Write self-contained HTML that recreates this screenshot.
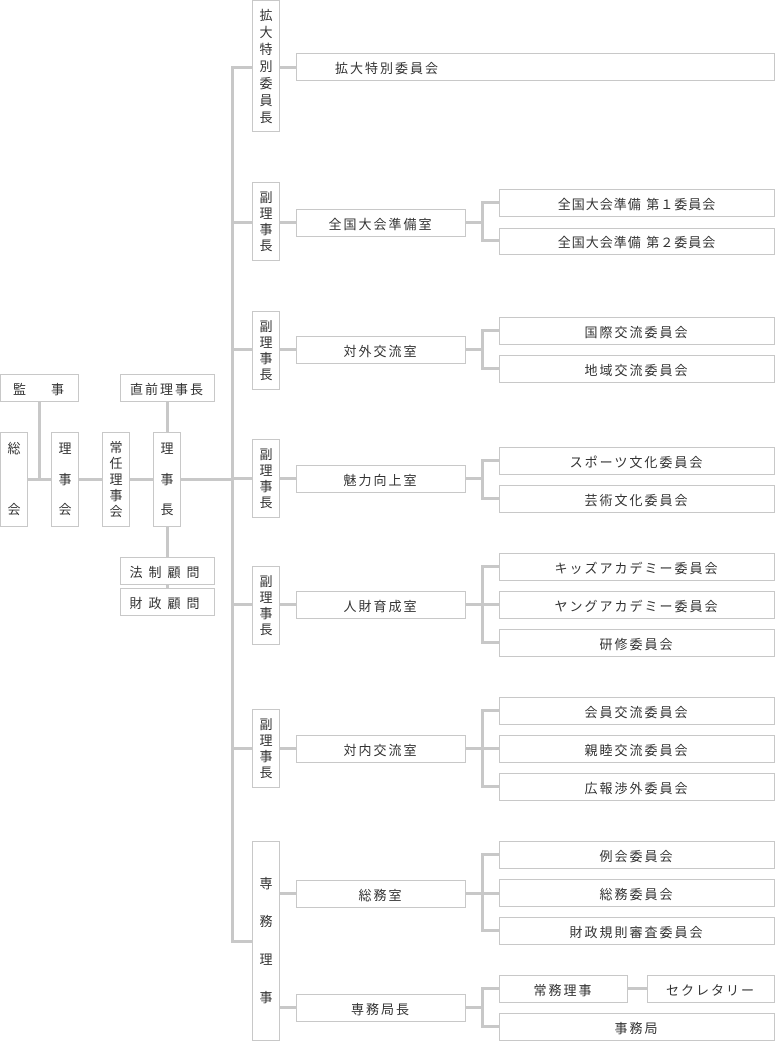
<!DOCTYPE html>
<html><head><meta charset="utf-8"><style>
body{margin:0;width:775px;height:1041px;position:relative;background:#fff;overflow:hidden;font-family:"Liberation Sans","Noto Sans CJK JP",sans-serif;color:#333;font-size:13px}
.b{position:absolute;box-sizing:border-box;border:1px solid #c8c8c8;background:#fff;display:flex;align-items:center;justify-content:center;letter-spacing:2px}
.v{flex-direction:column;line-height:16px;letter-spacing:0}
.l{position:absolute;background:#c8c8c8}
</style></head><body>
<!-- lines -->
<div class="l" style="left:38px;top:401px;width:3px;height:79px"></div>
<div class="l" style="left:27px;top:478px;width:206px;height:3px"></div>
<div class="l" style="left:166px;top:401px;width:3px;height:187px"></div>
<div class="l" style="left:231px;top:66px;width:3px;height:877px"></div>
<div class="l" style="left:231px;top:66px;width:21px;height:3px"></div>
<div class="l" style="left:279px;top:66px;width:17px;height:3px"></div>
<!-- sections -->
<div class="l" style="left:231px;top:221px;width:65px;height:3px"></div>
<div class="l" style="left:231px;top:348px;width:65px;height:3px"></div>
<div class="l" style="left:231px;top:477px;width:65px;height:3px"></div>
<div class="l" style="left:231px;top:603px;width:65px;height:3px"></div>
<div class="l" style="left:231px;top:747px;width:65px;height:3px"></div>
<div class="l" style="left:231px;top:940px;width:21px;height:3px"></div>
<div class="l" style="left:279px;top:892px;width:17px;height:3px"></div>
<div class="l" style="left:279px;top:1006px;width:17px;height:3px"></div>
<!-- brackets -->
<div class="l" style="left:465px;top:221px;width:17px;height:3px"></div>
<div class="l" style="left:481px;top:201px;width:3px;height:40px"></div>
<div class="l" style="left:481px;top:201px;width:18px;height:3px"></div>
<div class="l" style="left:481px;top:239px;width:18px;height:3px"></div>

<div class="l" style="left:465px;top:348px;width:17px;height:3px"></div>
<div class="l" style="left:481px;top:329px;width:3px;height:40px"></div>
<div class="l" style="left:481px;top:329px;width:18px;height:3px"></div>
<div class="l" style="left:481px;top:367px;width:18px;height:3px"></div>

<div class="l" style="left:465px;top:477px;width:17px;height:3px"></div>
<div class="l" style="left:481px;top:459px;width:3px;height:40px"></div>
<div class="l" style="left:481px;top:459px;width:18px;height:3px"></div>
<div class="l" style="left:481px;top:497px;width:18px;height:3px"></div>

<div class="l" style="left:465px;top:603px;width:34px;height:3px"></div>
<div class="l" style="left:481px;top:565px;width:3px;height:78px"></div>
<div class="l" style="left:481px;top:565px;width:18px;height:3px"></div>
<div class="l" style="left:481px;top:641px;width:18px;height:3px"></div>

<div class="l" style="left:465px;top:747px;width:34px;height:3px"></div>
<div class="l" style="left:481px;top:709px;width:3px;height:78px"></div>
<div class="l" style="left:481px;top:709px;width:18px;height:3px"></div>
<div class="l" style="left:481px;top:785px;width:18px;height:3px"></div>

<div class="l" style="left:465px;top:892px;width:34px;height:3px"></div>
<div class="l" style="left:481px;top:853px;width:3px;height:78px"></div>
<div class="l" style="left:481px;top:853px;width:18px;height:3px"></div>
<div class="l" style="left:481px;top:929px;width:18px;height:3px"></div>

<div class="l" style="left:465px;top:1006px;width:17px;height:3px"></div>
<div class="l" style="left:481px;top:987px;width:3px;height:40px"></div>
<div class="l" style="left:481px;top:987px;width:18px;height:3px"></div>
<div class="l" style="left:481px;top:1025px;width:18px;height:3px"></div>
<div class="l" style="left:627px;top:987px;width:20px;height:3px"></div>

<!-- left boxes -->
<div class="b" style="left:0;top:374px;width:79px;height:28px;justify-content:space-between;padding:0 12px">監<span>事</span></div>
<div class="b" style="left:120px;top:374px;width:95px;height:28px">直前理事長</div>
<div class="b v" style="left:0;top:432px;width:28px;height:95px;justify-content:space-between;padding:8px 0">総<span>会</span></div>
<div class="b v" style="left:51px;top:432px;width:28px;height:95px;justify-content:space-between;padding:8px 0">理<span>事</span><span>会</span></div>
<div class="b v" style="left:102px;top:432px;width:28px;height:95px">常<br>任<br>理<br>事<br>会</div>
<div class="b v" style="left:153px;top:432px;width:28px;height:95px;justify-content:space-between;padding:8px 0">理<span>事</span><span>長</span></div>
<div class="b" style="left:120px;top:557px;width:95px;height:28px;letter-spacing:6px">法制顧問</div>
<div class="b" style="left:120px;top:588px;width:95px;height:28px;letter-spacing:6px">財政顧問</div>

<!-- column boxes -->
<div class="b v" style="left:252px;top:0;width:28px;height:132px;line-height:17px">拡<br>大<br>特<br>別<br>委<br>員<br>長</div>
<div class="b" style="left:296px;top:53px;width:479px;height:28px;justify-content:flex-start;padding-left:38px">拡大特別委員会</div>

<div class="b v" style="left:252px;top:182px;width:28px;height:79px">副<br>理<br>事<br>長</div>
<div class="b" style="left:296px;top:209px;width:170px;height:28px">全国大会準備室</div>
<div class="b" style="left:499px;top:189px;width:276px;height:28px;letter-spacing:1px">全国大会準備 第１委員会</div>
<div class="b" style="left:499px;top:228px;width:276px;height:27px;letter-spacing:1px">全国大会準備 第２委員会</div>

<div class="b v" style="left:252px;top:311px;width:28px;height:79px">副<br>理<br>事<br>長</div>
<div class="b" style="left:296px;top:336px;width:170px;height:28px">対外交流室</div>
<div class="b" style="left:499px;top:317px;width:276px;height:28px">国際交流委員会</div>
<div class="b" style="left:499px;top:355px;width:276px;height:28px">地域交流委員会</div>

<div class="b v" style="left:252px;top:439px;width:28px;height:79px">副<br>理<br>事<br>長</div>
<div class="b" style="left:296px;top:465px;width:170px;height:28px">魅力向上室</div>
<div class="b" style="left:499px;top:447px;width:276px;height:28px">スポーツ文化委員会</div>
<div class="b" style="left:499px;top:485px;width:276px;height:28px">芸術文化委員会</div>

<div class="b v" style="left:252px;top:566px;width:28px;height:79px">副<br>理<br>事<br>長</div>
<div class="b" style="left:296px;top:591px;width:170px;height:28px">人財育成室</div>
<div class="b" style="left:499px;top:553px;width:276px;height:28px">キッズアカデミー委員会</div>
<div class="b" style="left:499px;top:591px;width:276px;height:28px">ヤングアカデミー委員会</div>
<div class="b" style="left:499px;top:629px;width:276px;height:28px">研修委員会</div>

<div class="b v" style="left:252px;top:709px;width:28px;height:79px">副<br>理<br>事<br>長</div>
<div class="b" style="left:296px;top:735px;width:170px;height:28px">対内交流室</div>
<div class="b" style="left:499px;top:697px;width:276px;height:28px">会員交流委員会</div>
<div class="b" style="left:499px;top:735px;width:276px;height:28px">親睦交流委員会</div>
<div class="b" style="left:499px;top:773px;width:276px;height:28px">広報渉外委員会</div>

<div class="b v" style="left:252px;top:841px;width:28px;height:200px;justify-content:space-evenly;padding:12px 0">専<span>務</span><span>理</span><span>事</span></div>
<div class="b" style="left:296px;top:880px;width:170px;height:28px">総務室</div>
<div class="b" style="left:499px;top:841px;width:276px;height:28px">例会委員会</div>
<div class="b" style="left:499px;top:879px;width:276px;height:28px">総務委員会</div>
<div class="b" style="left:499px;top:917px;width:276px;height:28px">財政規則審査委員会</div>
<div class="b" style="left:296px;top:994px;width:170px;height:28px">専務局長</div>
<div class="b" style="left:499px;top:975px;width:129px;height:28px">常務理事</div>
<div class="b" style="left:647px;top:975px;width:128px;height:28px">セクレタリー</div>
<div class="b" style="left:499px;top:1013px;width:276px;height:28px">事務局</div>
</body></html>
